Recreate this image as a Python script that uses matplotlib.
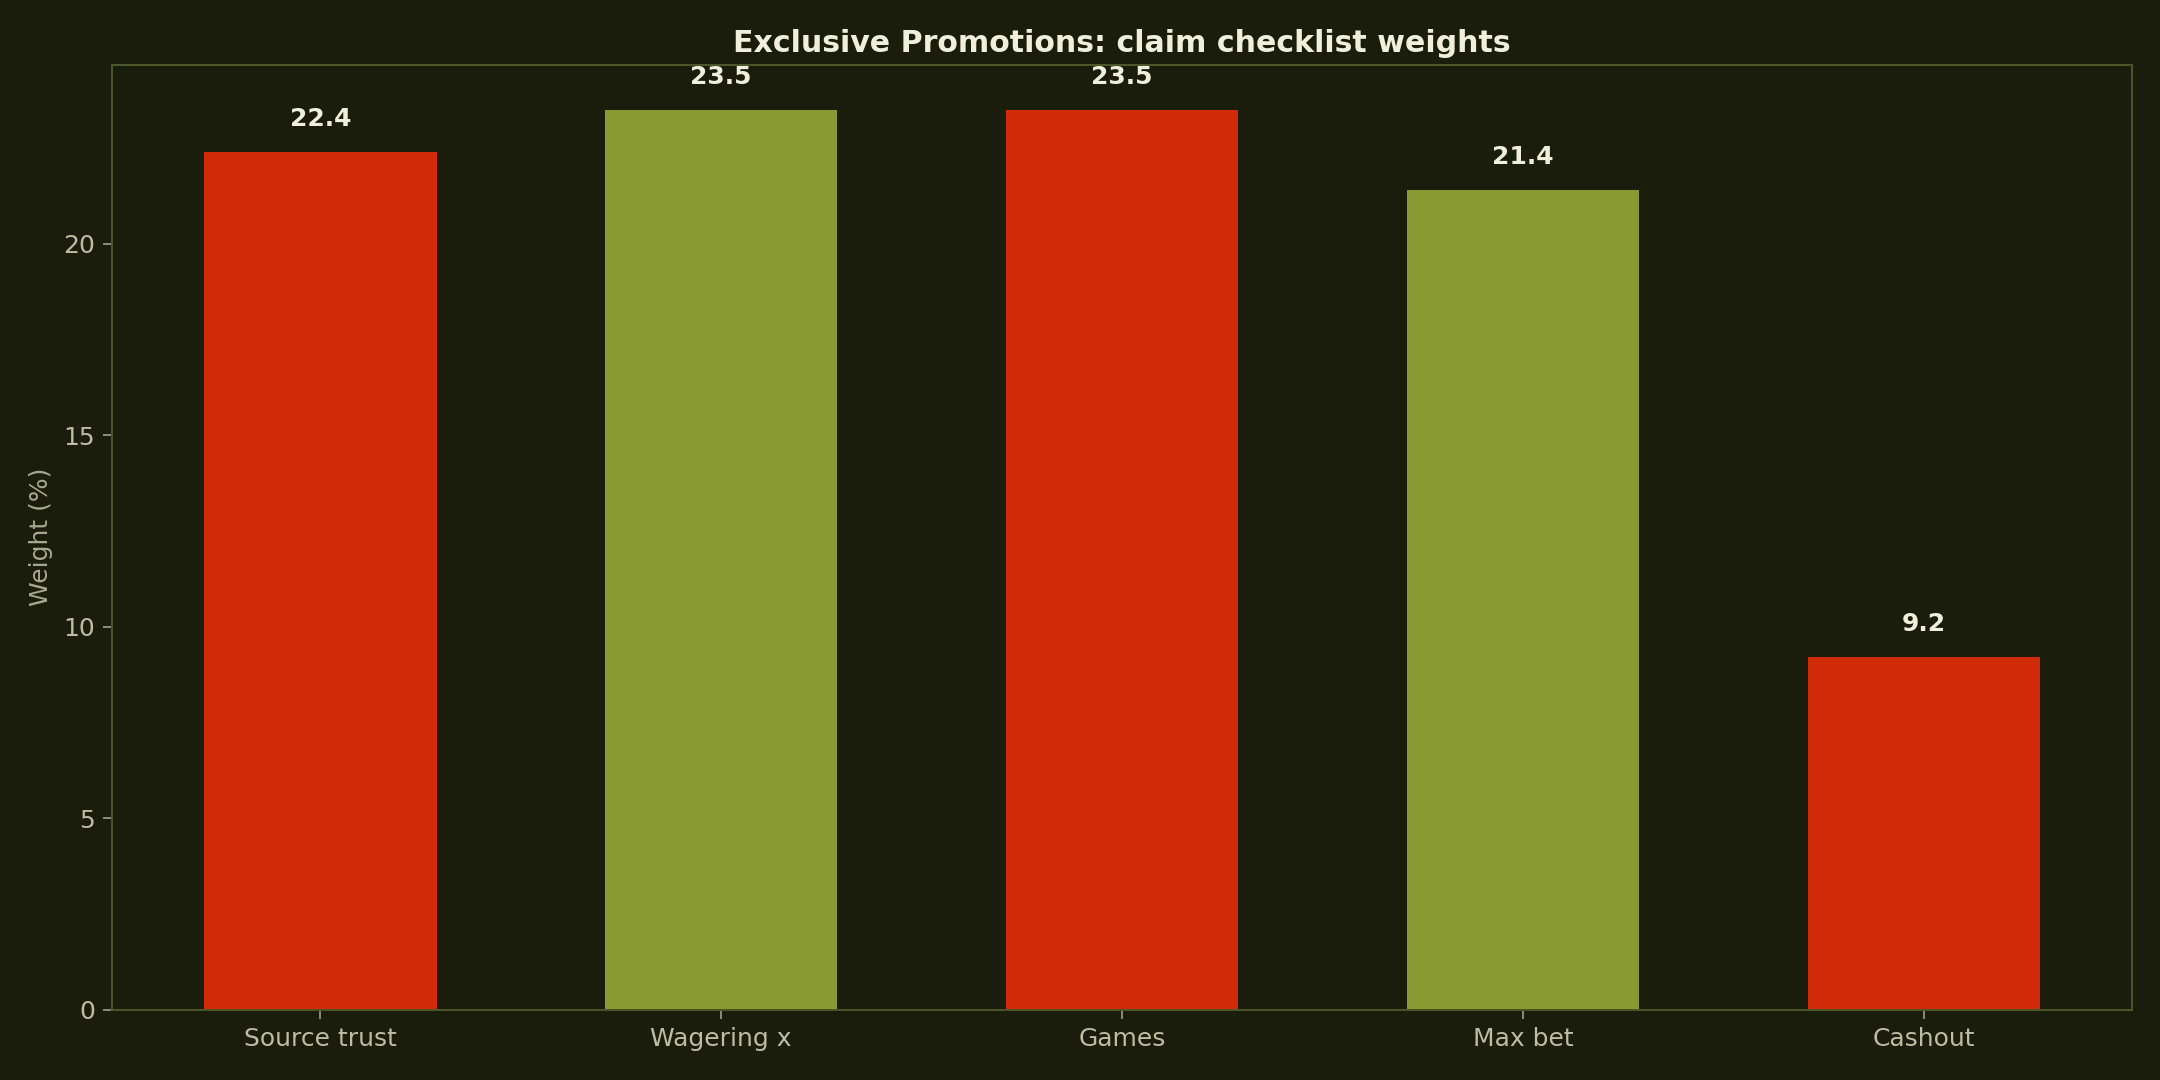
import matplotlib
matplotlib.use("Agg")
import matplotlib.pyplot as plt
import numpy as np

# 数据
categories = ["Source trust", "Wagering x", "Games", "Max bet", "Cashout"]
weights = [22.4, 23.5, 23.5, 21.4, 9.2]
bar_colors = ["#D12A08", "#8A9A32", "#D12A08", "#8A9A32", "#D12A08"]

bg = "#1A1C0C"
fig, ax = plt.subplots(figsize=(12, 6), dpi=180)
fig.patch.set_facecolor(bg)
ax.set_facecolor(bg)
fig.subplots_adjust(left=0.052, right=0.987, top=0.94, bottom=0.065)

x = np.arange(len(categories))
bars = ax.bar(x, weights, width=0.58, color=bar_colors)

for b, v in zip(bars, weights):
    ax.text(b.get_x() + b.get_width() / 2, v + 0.55, f"{v:.1f}",
            ha="center", va="bottom", fontsize=10, fontweight="bold",
            color="#F0EEDC")

ax.set_xticks(x)
ax.set_xticklabels(categories)
ax.set_ylabel("Weight (%)", color="#A8A790", fontsize=10)
ax.set_title("Exclusive Promotions: claim checklist weights", color="#F0EEDC",
             fontsize=12, fontweight="bold", pad=5)
ax.tick_params(colors="#BDBCA4", labelsize=10)
ax.tick_params(axis="both", color="#8A8A70")
for s in ax.spines.values():
    s.set_color("#4C5528")
    s.set_linewidth(0.8)

plt.savefig("out.png", facecolor=bg)
